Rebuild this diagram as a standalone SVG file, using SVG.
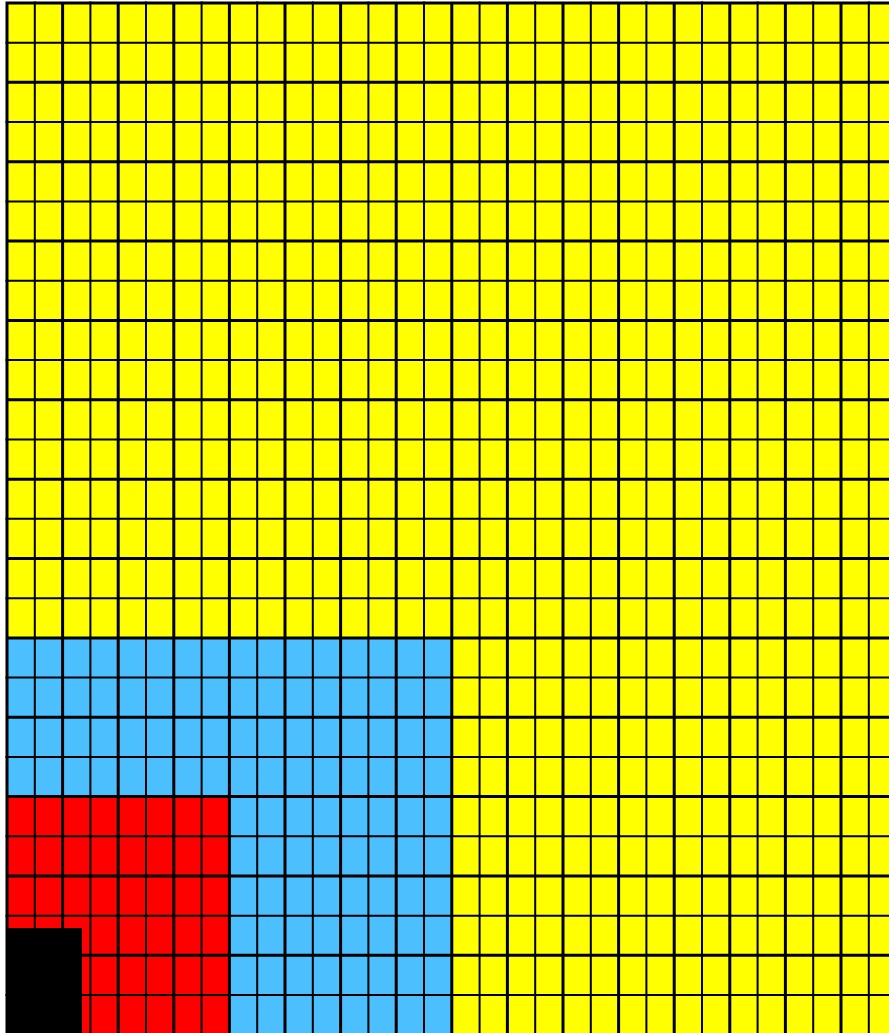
<svg xmlns="http://www.w3.org/2000/svg" width="889" height="1033" viewBox="0 0 889 1033">
<style>
.bg{fill:#ffffff}
.y{fill:#ffff00}
.b{fill:#4cbfff}
.r{fill:#ff0000}
.k{fill:#000000}
.thin{stroke:#000;stroke-width:2;fill:none}
.thick{stroke:#000;stroke-width:3;fill:none}
</style>
<rect class="bg" x="0" y="0" width="889" height="1033"/>
<g id="regions">
<rect id="yellow" class="y" x="7" y="3" width="882" height="1030"/>
<rect id="blue" class="b" x="7" y="637.88" width="444.8" height="395.12"/>
<rect id="red" class="r" x="7" y="796.6" width="222.4" height="236.4"/>
</g>
<g id="grid">
<path class="thin" d="M34.8 1.5V1033M90.4 1.5V1033M146 1.5V1033M201.6 1.5V1033M257.2 1.5V1033M312.8 1.5V1033M368.4 1.5V1033M424 1.5V1033M479.6 1.5V1033M535.2 1.5V1033M590.8 1.5V1033M646.4 1.5V1033M702 1.5V1033M757.6 1.5V1033M813.2 1.5V1033M868.8 1.5V1033
M5.5 42.68H889M5.5 122.04H889M5.5 201.4H889M5.5 280.76H889M5.5 360.12H889M5.5 439.48H889M5.5 518.84H889M5.5 598.2H889M5.5 677.56H889M5.5 756.92H889M5.5 836.28H889M5.5 915.64H889M5.5 995H889"/>
<path class="thick" d="M7 1.5V1033M62.6 1.5V1033M118.2 1.5V1033M173.8 1.5V1033M229.4 1.5V1033M285 1.5V1033M340.6 1.5V1033M396.2 1.5V1033M451.8 1.5V1033M507.4 1.5V1033M563 1.5V1033M618.6 1.5V1033M674.2 1.5V1033M729.8 1.5V1033M785.4 1.5V1033M841 1.5V1033
M5.5 3H889M5.5 82.36H889M5.5 161.72H889M5.5 241.08H889M5.5 320.44H889M5.5 399.8H889M5.5 479.16H889M5.5 558.52H889M5.5 637.88H889M5.5 717.24H889M5.5 796.6H889M5.5 875.96H889M5.5 955.32H889"/>
</g>
<g id="black-block">
<rect class="k" x="6" y="928" width="76" height="105"/>
</g>
</svg>
